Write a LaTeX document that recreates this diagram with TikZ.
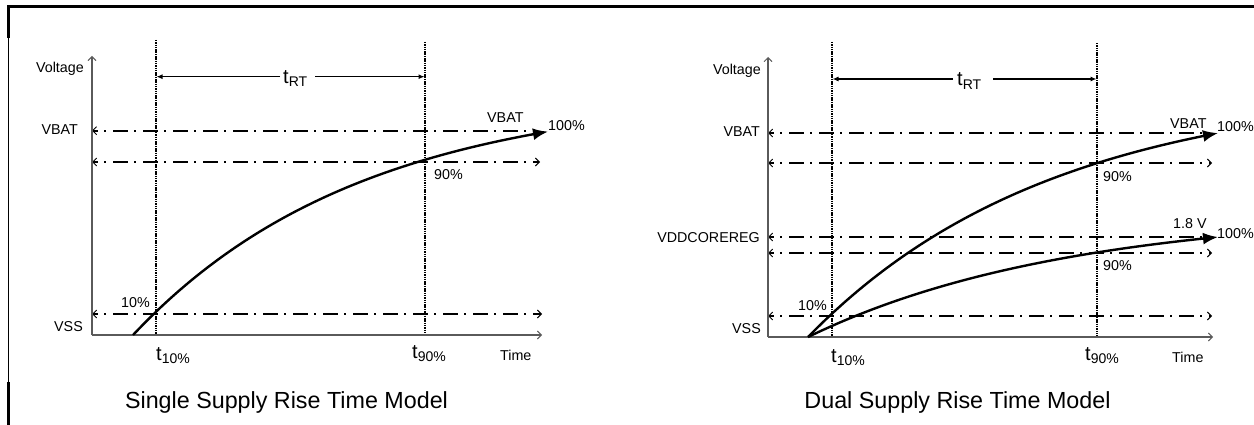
\documentclass[tikz,border=0pt]{standalone}
\usepackage{fontspec}
\setmainfont{Liberation Sans}
\usetikzlibrary{arrows.meta}
\definecolor{axisgray}{HTML}{5A5A5A}
\tikzset{
  barb/.tip={Straight Barb[length=4pt,width=8pt,line width=0.9pt]},
  axisline/.style={draw=axisgray, line width=1.1pt, -barb},
  level/.style={line width=2pt, dash pattern=on 15pt off 6pt on 2pt off 7pt, dash phase=10pt},
  lvlL/.style={level, barb-},
  lvlLR/.style={level, barb-barb},
  tline/.style={line width=1.2pt, dash pattern=on 1.5pt off 0.8pt},
  curve/.style={line width=2.4pt, -{Latex[length=15pt,width=12pt]}},
  dimarrow/.style={line width=1.1pt, -{Latex[length=6pt,width=5pt]}},
  lbl/.style={font=\fontsize{14.3}{16}\selectfont, inner sep=0pt},
  tlbl/.style={font=\fontsize{20}{20}\selectfont, inner sep=0pt},
  ttl/.style={font=\fontsize{23.3}{26}\selectfont, inner sep=0pt},
  frame/.style={line width=2.5pt},
}
\newcommand{\tsub}[2]{t\raisebox{-3.5pt}{\fontsize{#2}{#2}\selectfont #1}}
\begin{document}
\begin{tikzpicture}[x=1pt,y=-1pt]
\useasboundingbox (0,0) rectangle (1254,425);
% frame
\draw[frame] (7.3,6.5) -- (1254,6.5);
\draw[line width=1pt] (8.5,6) -- (8.5,425);
\draw[frame] (8.5,6) -- (8.5,38);
\draw[frame] (8.5,382) -- (8.5,425);

% ================= LEFT =================
\coordinate (Lo) at (92,335);
\coordinate (Ltop) at (92,56);
\coordinate (Lxr) at (542,335);
\draw[tline] (156,40) -- (156,335);
\draw[tline] (425,42) -- (425,335);
\draw[lvlL] (92,130.7) -- (536,130.7);
\draw[lvlLR] (92,162) -- (540,162);
\draw[lvlLR] (92,314) -- (542,314);
\draw[axisline] (Lo) -- (Ltop);
\draw[axisline] (Lo) -- (Lxr);
\draw[curve] plot[domain=133:548, samples=90] (\x, {335 - 243*(1-exp(-(\x-133)/228.7))});
\node[tlbl, anchor=base west] (Ltrt) at (283,83.5) {\tsub{RT}{14}};
\draw[dimarrow] (280,76.7) -- (156.5,76.7);
\draw[dimarrow] (315,76.7) -- (424.5,76.7);
\node[lbl, anchor=base east] (Lvolt) at (84,73) {Voltage};
\node[lbl, anchor=base east] (Lvbat) at (78,135) {VBAT};
\node[lbl, anchor=base east] (Lvss) at (83,331.5) {VSS};
\node[lbl, anchor=base west] (L10) at (121,307) {10\%};
\node[lbl, anchor=base west] (L90) at (434,180) {90\%};
\node[lbl, anchor=base west] (Lvbat2) at (487,123) {VBAT};
\node[lbl, anchor=base west] (L100) at (548,131) {100\%};
\node[lbl, anchor=base west] (Ltime) at (500,360) {Time};
\node[tlbl, anchor=base west] (Lt10) at (156,360) {\tsub{10\%}{14}};
\node[tlbl, anchor=base west] (Lt90) at (412,358) {\tsub{90\%}{14}};
\node[ttl, anchor=base] (Ltitle) at (286.5,408) {Single Supply Rise Time Model};

% ================= RIGHT =================
\coordinate (Ro) at (768,337);
\coordinate (Rtop) at (768,57);
\coordinate (Rxr) at (1213,337);
\draw[tline] (832,42) -- (832,337);
\draw[tline] (1097,43) -- (1097,337);
\draw[lvlL] (768,133) -- (1206,133);
\draw[lvlLR] (768,163) -- (1212,163);
\draw[lvlL] (768,237) -- (1206,237);
\draw[lvlLR] (768,253) -- (1212,253);
\draw[lvlLR] (768,316) -- (1212,316);
\draw[axisline] (Ro) -- (Rtop);
\draw[axisline] (Ro) -- (Rxr);
\draw[curve] plot[domain=808:1218, samples=90] (\x, {337 - 251*(1-exp(-(\x-808)/245))});
\draw[curve] plot[domain=808:1218, samples=90] (\x, {337 - 126*(1-exp(-(\x-808)/260))});
\node[tlbl, anchor=base west] (Rtrt) at (957,86) {\tsub{RT}{14}};
\draw[dimarrow] (953,79) -- (832.5,79);
\draw[dimarrow] (993,79) -- (1096.5,79);
\node[lbl, anchor=base east] (Rvolt) at (761,75) {Voltage};
\node[lbl, anchor=base east] (Rvbat) at (760,137) {VBAT};
\node[lbl, anchor=base east] (Rvdd) at (760,243) {VDDCOREREG};
\node[lbl, anchor=base east] (Rvss) at (761,333) {VSS};
\node[lbl, anchor=base west] (R10) at (798,310) {10\%};
\node[lbl, anchor=base west] (R90a) at (1103,182) {90\%};
\node[lbl, anchor=base west] (R90b) at (1103,270) {90\%};
\node[lbl, anchor=base west] (Rvbat2) at (1170,129) {VBAT};
\node[lbl, anchor=base west] (R100a) at (1217,132) {100\%};
\node[lbl, anchor=base west] (R18) at (1173,229) {1.8 V};
\node[lbl, anchor=base west] (R100b) at (1217,238) {100\%};
\node[lbl, anchor=base west] (Rtime) at (1172,362) {Time};
\node[tlbl, anchor=base west] (Rt10) at (831,362) {\tsub{10\%}{14}};
\node[tlbl, anchor=base west] (Rt90) at (1085,360) {\tsub{90\%}{14}};
\node[ttl, anchor=base] (Rtitle) at (957.5,408) {Dual Supply Rise Time Model};
\end{tikzpicture}
\end{document}
